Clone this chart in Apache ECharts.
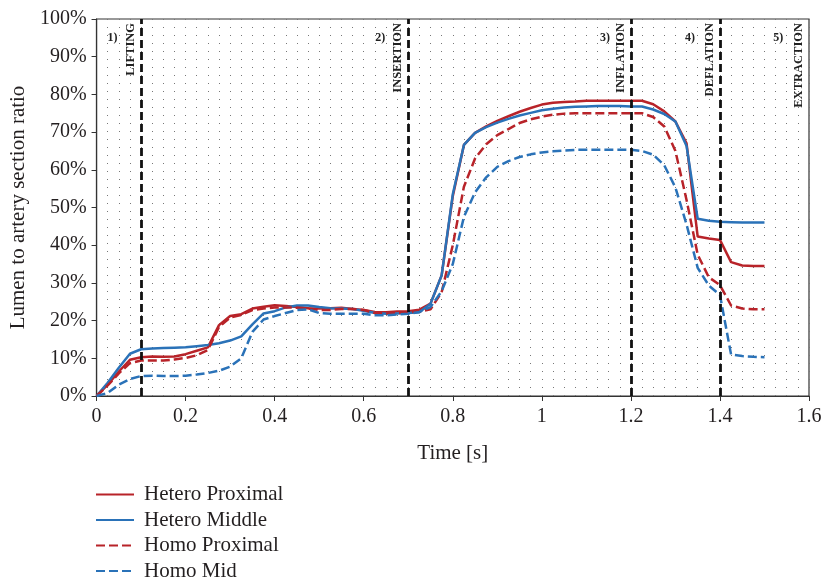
<!DOCTYPE html>
<html>
<head>
<meta charset="utf-8">
<script src="https://cdn.jsdelivr.net/npm/echarts@6/dist/echarts.min.js"></script>
<style>
  html, body { margin: 0; padding: 0; background: #fff; }
  #chart { width: 825px; height: 584px; }
</style>
</head>
<body>
<div id="chart"></div>
<script>
// time samples [s]
const times = [
  0, 0.025, 0.05, 0.075, 0.1, 0.125, 0.15, 0.175, 0.2, 0.225,
  0.25, 0.275, 0.3, 0.325, 0.35, 0.375, 0.4, 0.425, 0.45, 0.475,
  0.5, 0.525, 0.55, 0.575, 0.6, 0.625, 0.65, 0.675, 0.7, 0.725,
  0.75, 0.775, 0.8, 0.825, 0.85, 0.875, 0.9, 0.925, 0.95, 0.975,
  1.0, 1.025, 1.05, 1.075, 1.1, 1.125, 1.15, 1.175, 1.2, 1.225,
  1.25, 1.275, 1.3, 1.325, 1.35, 1.375, 1.4, 1.425, 1.45, 1.475, 1.5
];

// lumen to artery section ratio [%]
const heteroProximal = [
  0, 3, 6.5, 9.6, 10.3, 10.5, 10.4, 10.5, 11.1, 12,
  12.9, 18.8, 21.2, 21.7, 23.2, 23.7, 24.1, 23.9, 23.6, 23.3,
  23.2, 23.3, 23.4, 23.1, 22.8, 22.3, 22.2, 22.4, 22.5, 22.9,
  24.5, 32, 53, 66.6, 69.8, 71.5, 73, 74.2, 75.4, 76.4,
  77.3, 77.8, 78, 78.1, 78.3, 78.3, 78.3, 78.3, 78.3, 78.3,
  77.4, 75.5, 72.8, 67, 42.3, 41.8, 41.4, 35.5, 34.6, 34.5, 34.5
];
const heteroMiddle = [
  0, 3.5, 7.5, 11.2, 12.4, 12.6, 12.7, 12.8, 12.9, 13.2,
  13.5, 14, 14.7, 15.8, 19, 21.9, 22.5, 23.5, 24, 24,
  23.6, 23.3, 23.2, 23.1, 22.6, 22, 21.8, 21.9, 22, 22.2,
  24.5, 32, 53.5, 66.6, 69.8, 71.3, 72.5, 73.5, 74.4, 75.1,
  75.8, 76.2, 76.5, 76.7, 76.8, 76.9, 76.9, 76.9, 76.8, 76.8,
  76, 74.8, 72.8, 66.3, 47, 46.5, 46.2, 46.1, 46, 46, 46
];
const homoProximal = [
  0, 2.8, 6, 8.7, 9.4, 9.4, 9.4, 9.7, 10.1, 10.8,
  12.2, 18.3, 20.8, 21.5, 22.8, 23.2, 23.5, 23.5, 23.4, 23.2,
  22.8, 22.8, 23.1, 23.1, 22.8, 22, 21.9, 22, 22.2, 22.4,
  23, 27.5, 40, 55.5, 63, 66.8, 69.2, 70.8, 72.4, 73.4,
  74.1, 74.6, 74.9, 75, 75, 75, 75, 75, 75, 75,
  74, 71.5, 65, 52, 37.5, 31.5, 29.4, 24, 23.2, 23, 23
];
const homoMid = [
  0, 0.8, 3, 4.5, 5.3, 5.4, 5.3, 5.3, 5.4, 5.7,
  6.1, 6.7, 7.8, 10, 17, 20.3, 21.2, 22, 22.8, 23,
  22, 21.8, 21.8, 21.8, 21.8, 21.4, 21.4, 21.6, 21.8, 22.3,
  23.6, 27.8, 35, 47.5, 54, 58, 60.8, 62.3, 63.4, 64.1,
  64.6, 64.9, 65.1, 65.3, 65.3, 65.3, 65.3, 65.3, 65.3, 65,
  64, 61.2, 55.3, 45.5, 34, 29.3, 26.8, 11, 10.6, 10.4, 10.3
];

// phase boundaries and labels
const phaseLines = [0.1, 0.7, 1.2, 1.4, 1.6];
const phaseNames = ['LIFTING', 'INSERTION', 'INFLATION', 'DEFLATION', 'EXTRACTION'];
const phaseNums = ['1)', '2)', '3)', '4)', '5)'];
const phaseNumX = [0.036, 0.637, 1.142, 1.333, 1.531];

const RED = '#b82329';
const BLUE = '#2a72b8';
const FONT = 'Liberation Serif';
const TXT = '#231f20';

const pairs = arr => times.map((t, i) => [t, arr[i]]);

const chart = echarts.init(document.getElementById('chart'), null, { renderer: 'canvas' });

const mkLine = (name, data, color, dashed) => ({
  name: name,
  type: 'line',
  data: pairs(data),
  symbol: 'none',
  showSymbol: false,
  lineStyle: { color: color, width: 2.5, type: dashed ? [9, 4] : 'solid' },
  itemStyle: { color: color },
  z: 3
});

const series = [
  mkLine('Hetero Proximal', heteroProximal, RED, false),
  mkLine('Hetero Middle', heteroMiddle, BLUE, false),
  mkLine('Homo Proximal', homoProximal, RED, true),
  mkLine('Homo Mid', homoMid, BLUE, true)
];

// phase markers carried by an empty helper series
series.push({
  name: 'phases',
  type: 'line',
  data: [],
  silent: true,
  markLine: {
    symbol: 'none',
    silent: true,
    data: phaseLines.map((x, i) => ({
      xAxis: x,
      lineStyle: {
        color: x >= 1.6 ? 'rgba(0,0,0,0)' : '#111',
        width: 2.8,
        type: [8, 4]
      },
      label: {
        show: true,
        formatter: phaseNames[i],
        position: 'insideEndTop',
        distance: 4,
        fontFamily: FONT,
        fontWeight: 'bold',
        fontSize: 12.5,
        color: '#222'
      }
    }))
  },
  markPoint: {
    symbol: 'circle',
    symbolSize: 0,
    silent: true,
    data: phaseNumX.map((x, i) => ({
      coord: [x, 95],
      label: {
        show: true,
        formatter: phaseNums[i],
        position: 'inside',
        fontFamily: FONT,
        fontWeight: 'bold',
        fontSize: 12,
        color: '#222'
      }
    }))
  }
});

const option = {
  animation: false,
  backgroundColor: '#fff',
  textStyle: { fontFamily: FONT },
  grid: {
    left: 96,
    right: 16,
    top: 19,
    bottom: 188,
    show: true,
    borderColor: '#333',
    borderWidth: 1.2
  },
  legend: {
    data: ['Hetero Proximal', 'Hetero Middle', 'Homo Proximal', 'Homo Mid'],
    orient: 'vertical',
    left: 95,
    top: 484,
    padding: 0,
    height: 100,
    itemWidth: 38,
    itemHeight: 14,
    itemGap: 4.5,
    itemStyle: { opacity: 0 },
    textStyle: { fontFamily: FONT, fontSize: 21, color: TXT, padding: [0, 0, 0, 5] }
  },
  xAxis: {
    type: 'value',
    min: 0,
    max: 1.6,
    interval: 0.2,
    name: 'Time [s]',
    nameLocation: 'middle',
    nameGap: 47,
    nameTextStyle: { fontFamily: FONT, fontSize: 21, color: TXT },
    axisLine: { show: true, lineStyle: { color: '#333', width: 1.2 } },
    axisTick: { show: true, inside: false, length: 5, lineStyle: { color: '#333' } },
    axisLabel: { fontFamily: FONT, fontSize: 20, color: TXT, margin: 11 },
    splitLine: { show: true, lineStyle: { color: '#777', width: 1, type: [1, 7] } },
    minorTick: { show: false, splitNumber: 8 },
    minorSplitLine: { show: true, lineStyle: { color: '#777', width: 1, type: [1, 7] } }
  },
  yAxis: {
    type: 'value',
    min: 0,
    max: 100,
    interval: 10,
    name: 'Lumen to artery section ratio',
    nameLocation: 'middle',
    nameGap: 61,
    nameTextStyle: { fontFamily: FONT, fontSize: 21, color: TXT },
    axisLine: { show: true, lineStyle: { color: '#333', width: 1.2 } },
    axisTick: { show: true, inside: false, length: 5, lineStyle: { color: '#333' } },
    axisLabel: { fontFamily: FONT, fontSize: 20, color: TXT, formatter: '{value}%', margin: 10 },
    splitLine: { show: false }
  },
  series: series
};

chart.setOption(option);
</script>
</body>
</html>
